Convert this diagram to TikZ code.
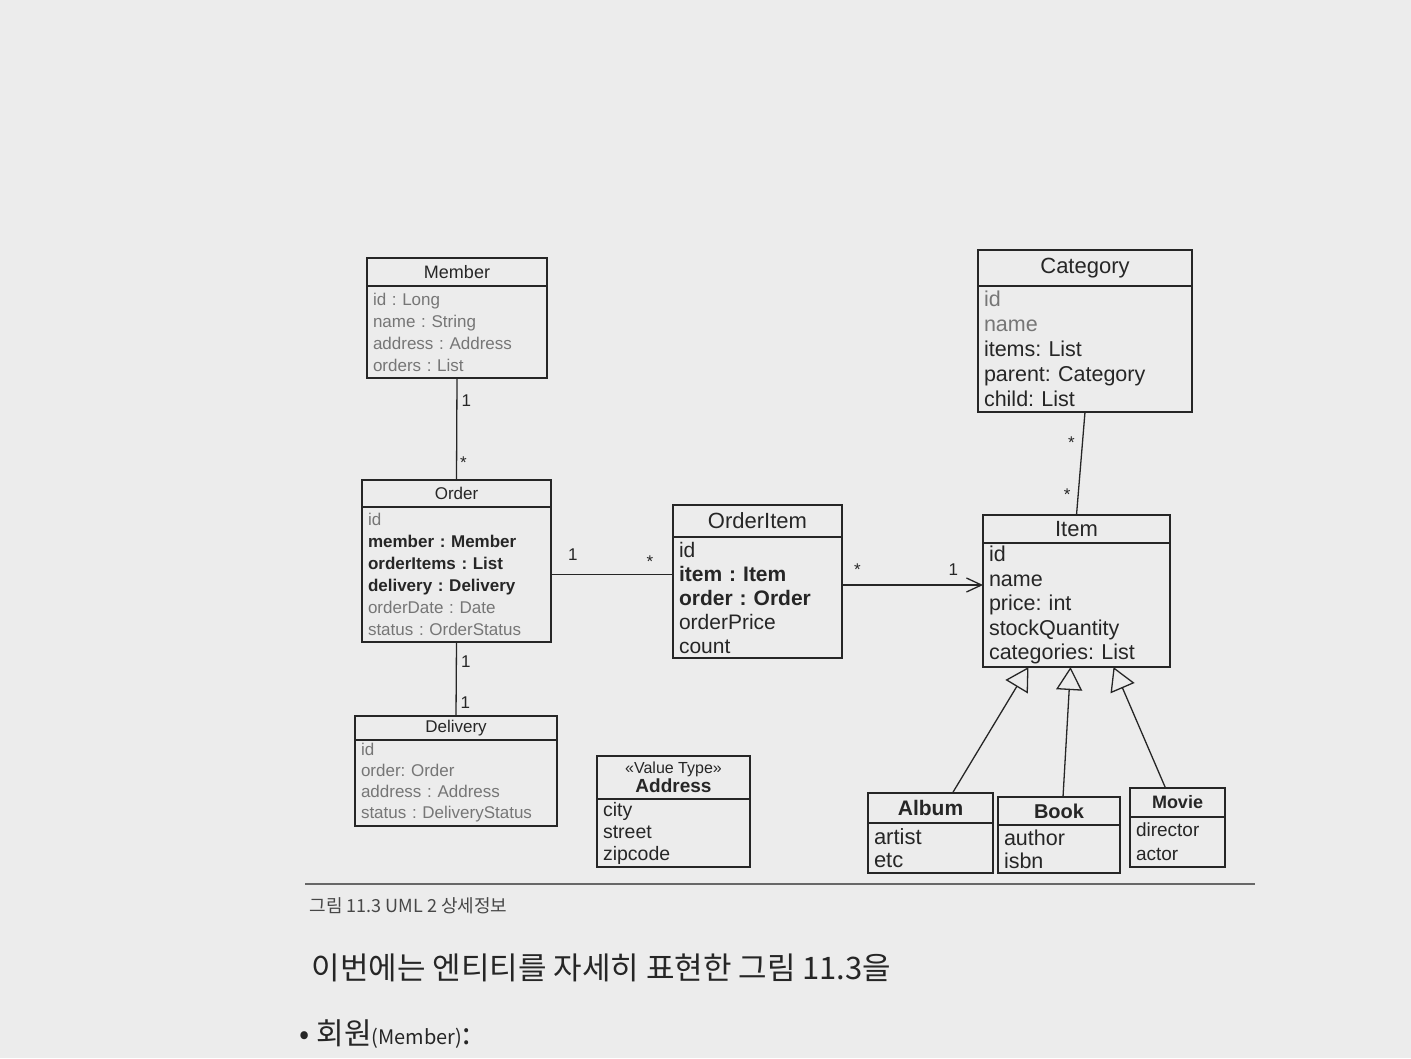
\documentclass[tikz,border=0pt]{standalone}
\usepackage{fontspec}
\setmainfont{Liberation Sans}
\newfontfamily\krfont{Noto Sans CJK KR}
\usetikzlibrary{arrows.meta}
\definecolor{page}{RGB}{236,236,236}
\definecolor{ink}{RGB}{38,38,38}
\definecolor{faded}{RGB}{118,118,118}
\newcommand{\pale}[1]{\textcolor{faded}{#1}}
\newcommand{\fsz}[2]{\fontsize{#1}{#2}\selectfont\frenchspacing}

\begin{document}
\begin{tikzpicture}[x=1pt, y=-1pt,
        title/.style={draw=ink, line width=1.6pt, outer sep=0pt, inner sep=0pt, text=ink},
        attrs/.style={draw=ink, line width=1.6pt, outer sep=0pt, anchor=north, align=left, inner xsep=6pt, inner ysep=3pt, text=ink},
        mult/.style={font=\fsz{17}{20}, text=ink, inner sep=1pt},
        link/.style={draw=ink, line width=1.3pt},
        inherit/.style={link, -{Triangle[open, length=23pt, width=26pt, fill=page]}},
        navig/.style={link, -{Straight Barb[length=15pt, width=14pt]}},
        rule/.style={draw=ink!70, line width=1.2pt}]
        \useasboundingbox (0,0) rectangle (1411,1058);
        \fill[page] (0,0) rectangle (1411,1058);

        \node[title, minimum width=180pt, minimum height=28pt, font=\fsz{18}{22}] (member) at (457,272) {Member};
        \node[attrs, text width=168pt, minimum height=92pt, font=\fsz{17}{22}, text=faded] (memberA) at (member.south) {id : Long\\ name : String\\ address : Address\\ orders : List};

        \node[title, minimum width=189pt, minimum height=27pt, font=\fsz{17}{21}] (order) at (456.5,493.5) {Order};
        \node[attrs, text width=177pt, minimum height=135pt, font=\fsz{17}{22}] (orderA) at (order.south) {\pale{id}\\ \textbf{member : Member}\\ \textbf{orderItems : List}\\ \textbf{delivery : Delivery}\\ \pale{orderDate : Date}\\ \pale{status : OrderStatus}};

        \node[title, minimum width=169pt, minimum height=32pt, font=\fsz{22}{26}] (orderitem) at (757.5,521) {OrderItem};
        \node[attrs, text width=157pt, minimum height=121pt, font=\fsz{21}{24}] (orderitemA) at (orderitem.south) {id\\ \textbf{item : Item}\\ \textbf{order : Order}\\ orderPrice\\ count};

        \node[title, minimum width=214pt, minimum height=36pt, font=\fsz{22}{26}] (category) at (1085,268) {Category};
        \node[attrs, text width=202pt, minimum height=126pt, font=\fsz{21.5}{25}] (categoryA) at (category.south) {\pale{id}\\ \pale{name}\\ items: List\\ parent: Category\\ child: List};

        \node[title, minimum width=187pt, minimum height=28pt, font=\fsz{22}{26}] (item) at (1076.5,529) {Item};
        \node[attrs, text width=175pt, minimum height=124pt, font=\fsz{21.5}{24.5}] (itemA) at (item.south) {id\\ name\\ price: int\\ stockQuantity\\ categories: List};

        \node[title, minimum width=202pt, minimum height=24pt, font=\fsz{17}{21}] (delivery) at (456,728) {Delivery};
        \node[attrs, text width=190pt, minimum height=86pt, font=\fsz{17}{21}, text=faded] (deliveryA) at (delivery.south) {id\\ order: Order\\ address : Address\\ status : DeliveryStatus};

        \node[title, minimum width=153pt, minimum height=43pt, align=center, font=\fsz{16}{19}] (address) at (673.5,777.5) {«Value Type»\\ {\fsz{19}{21}\bfseries Address}};
        \node[attrs, text width=141pt, minimum height=67pt, font=\fsz{19.5}{22}] (addressA) at (address.south) {city\\ street\\ zipcode};

        \node[title, minimum width=125pt, minimum height=30pt, font=\fsz{21}{24}\bfseries] (album) at (930.5,808) {Album};
        \node[attrs, text width=113pt, minimum height=50pt, font=\fsz{22}{23}] (albumA) at (album.south) {artist\\ etc};

        \node[title, minimum width=122pt, minimum height=28pt, font=\fsz{20}{24}\bfseries] (book) at (1059,811) {Book};
        \node[attrs, text width=110pt, minimum height=48pt, font=\fsz{21.5}{23}] (bookA) at (book.south) {author\\ isbn};

        \node[title, minimum width=95pt, minimum height=29pt, font=\fsz{18}{22}\bfseries] (movie) at (1177.5,802.5) {Movie};
        \node[attrs, text width=83pt, minimum height=50pt, font=\fsz{19}{24}] (movieA) at (movie.south) {director\\ actor};

        \draw[link] (memberA.south) -- node[mult, pos=0.22, right=3pt] (mo1) {1} node[mult, pos=0.83, right=2pt] (mo2) {*} (order.north);
        \draw[link] (orderA.east) -- node[mult, pos=0.18, above=12pt] (oo1) {1} node[mult, pos=0.81, above=5pt] (oo2) {*} (orderA.east -| orderitemA.west);
        \coordinate (oiOut) at (orderitemA.east |- 0,585);
        \draw[navig] (oiOut) -- node[mult, pos=0.11, above=8pt] (oi1) {*} node[mult, pos=0.79, above=8pt] (oi2) {1} (oiOut -| itemA.west);
        \draw[link] (categoryA.south) -- node[mult, pos=0.3, left=6pt] (ci1) {*} node[mult, pos=0.8, left=6pt] (ci2) {*} (item.north);
        \draw[link] (orderA.south) -- node[mult, pos=0.26, right=3pt] (od1) {1} node[mult, pos=0.82, right=3pt] (od2) {1} (delivery.north);

        \draw[inherit] ([xshift=22pt]album.north) -- ([xshift=-48pt]itemA.south);
        \draw[inherit] ([xshift=4pt]book.north) -- ([xshift=-6pt]itemA.south);
        \draw[inherit] ([xshift=-12pt]movie.north) -- ([xshift=37pt]itemA.south);

        \coordinate (ruleL) at (305,884);
        \coordinate (ruleR) at (1255,884);
        \draw[rule] (ruleL) -- (ruleR);
        \node[anchor=west, font=\krfont\fsz{18}{22}, text=ink!85] (caption) at (306,906) {그림 11.3 UML 2 상세정보};

        \node[anchor=west, font=\krfont\fsz{31}{36}, text=ink] (para) at (308,968) {이번에는 엔티티를 자세히 표현한 그림 11.3을};
        \node[anchor=west, font=\krfont\fsz{30}{36}, text=ink] (bullet) at (296,1034) {• 회원{\fsz{20}{24}(Member)}:};
    \end{tikzpicture}
\end{document}
